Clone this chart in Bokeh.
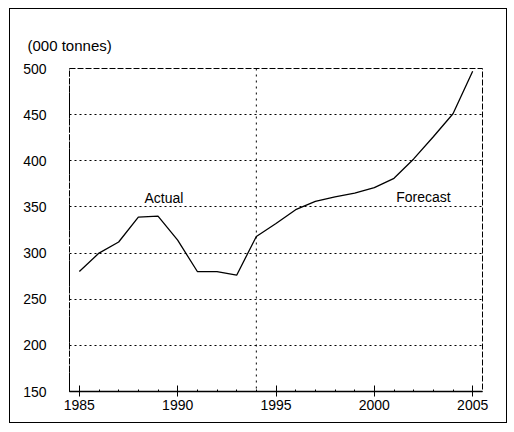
from bokeh.plotting import figure
from bokeh.models import FixedTicker, Span, Label, Range1d, Title
from bokeh.embed import file_html
from bokeh.resources import INLINE

years = [1985, 1986, 1987, 1988, 1989, 1990, 1991, 1992, 1993, 1994, 1995,
         1996, 1997, 1998, 1999, 2000, 2001, 2002, 2003, 2004, 2005]
tonnes = [280, 300, 312, 339, 340, 314, 280, 280, 276, 318, 332,
          347, 356, 361, 365, 371, 381, 402, 426, 451, 497]
x_ticks = [1985, 1990, 1995, 2000, 2005]
y_ticks = [150, 200, 250, 300, 350, 400, 450, 500]
split_year = 1994
unit_label = "(000 tonnes)"
actual_label = "Actual"
forecast_label = "Forecast"

FONT = "Liberation Sans"

p = figure(width=498, height=415, output_backend="svg", toolbar_location=None,
           x_range=Range1d(1984.5, 2005.5), y_range=Range1d(150, 500),
           min_border_left=59, min_border_top=59, min_border_right=26,
           min_border_bottom=33)
p.styles = {"border": "1.5px solid black", "margin-left": "9px", "margin-top": "8px"}

p.title = Title(text=unit_label, align="left", offset=-42, standoff=29,
                text_font=FONT, text_font_size="15px", text_font_style="normal",
                text_color="black")

p.outline_line_color = "black"
p.outline_line_dash = "6 2"
p.outline_line_width = 1

p.xgrid.visible = False
p.ygrid.ticker = FixedTicker(ticks=[200, 250, 300, 350, 400, 450])
p.ygrid.grid_line_color = "black"
p.ygrid.grid_line_dash = "2 3"
p.ygrid.grid_line_width = 1

p.xaxis.ticker = FixedTicker(ticks=x_ticks, minor_ticks=years)
p.xaxis.axis_line_color = "black"
p.xaxis.axis_line_width = 1.5
p.xaxis.major_tick_in = 6
p.xaxis.major_tick_out = 5
p.xaxis.major_tick_line_color = "black"
p.xaxis.minor_tick_in = 2
p.xaxis.minor_tick_out = 0
p.xaxis.minor_tick_line_color = "black"
p.xaxis.major_label_standoff = 3
p.xaxis.major_label_text_font = FONT
p.xaxis.major_label_text_font_size = "14px"
p.xaxis.major_label_text_color = "black"

p.yaxis.ticker = FixedTicker(ticks=y_ticks)
p.yaxis.axis_line_color = "black"
p.yaxis.axis_line_dash = "5 2"
p.yaxis.major_tick_line_color = None
p.yaxis.minor_tick_line_color = None
p.yaxis.major_label_standoff = 17
p.yaxis.major_label_text_font = FONT
p.yaxis.major_label_text_font_size = "14px"
p.yaxis.major_label_text_color = "black"

p.add_layout(Span(location=split_year, dimension="height", line_color="black",
                  line_dash="2 4", line_width=1))

p.line(years, tonnes, line_color="black", line_width=1.3)

p.add_layout(Label(x=1989.3, y=360, text=actual_label, text_align="center",
                   text_baseline="middle", text_font=FONT, text_font_size="14px",
                   text_color="black"))
p.add_layout(Label(x=2002.5, y=361, text=forecast_label, text_align="center",
                   text_baseline="middle", text_font=FONT, text_font_size="14px",
                   text_color="black"))

open("out.html", "w").write(file_html(p, INLINE))
